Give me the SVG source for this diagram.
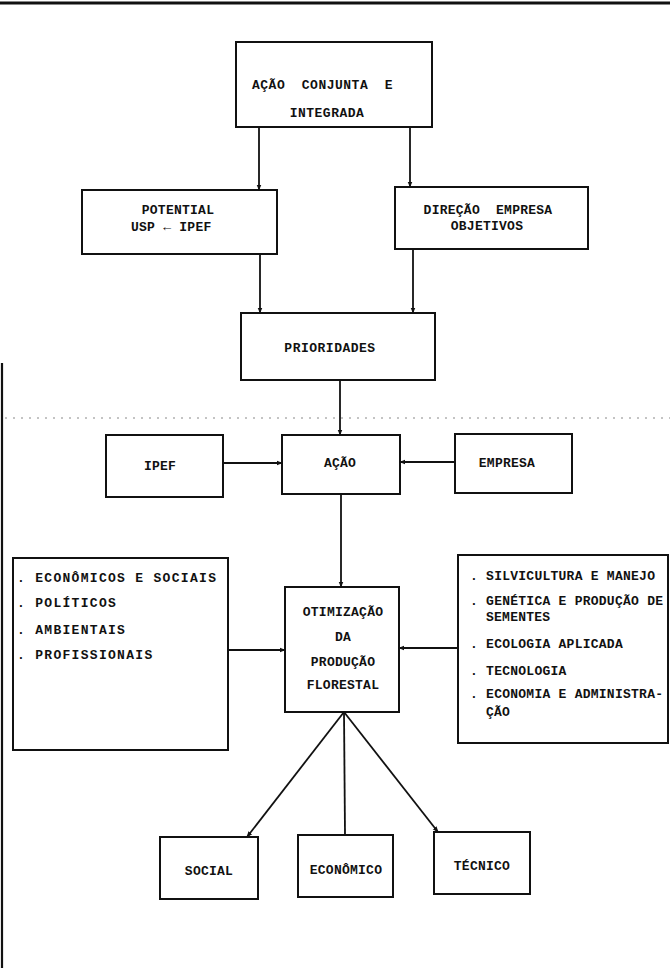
<svg xmlns="http://www.w3.org/2000/svg" width="670" height="968" viewBox="0 0 670 968">
<style>
.box{fill:none;stroke:#111;stroke-width:2}
.t{font-family:"Liberation Mono","DejaVu Sans Mono",monospace;font-weight:bold;font-size:13px;fill:#111;letter-spacing:0.25px}
.w{letter-spacing:0.5px}
.ww{letter-spacing:1.3px}
.c{text-anchor:middle}
.ln{stroke:#111;stroke-width:1.8;fill:none}
</style>
<defs>
<marker id="ah" viewBox="0 0 10 10" refX="9" refY="5" markerWidth="6" markerHeight="6" orient="auto" markerUnits="userSpaceOnUse">
<path d="M0,1 L10,5 L0,9 z" fill="#111"/>
</marker>
</defs>
<rect width="670" height="968" fill="#fff"/>
<line x1="0" y1="3" x2="670" y2="3" stroke="#111" stroke-width="3"/>
<line x1="2" y1="363" x2="2" y2="968" stroke="#111" stroke-width="2.2"/>
<line x1="5" y1="418" x2="670" y2="418" stroke="#888" stroke-width="1" stroke-dasharray="2 6"/>

<g id="acao-conjunta">
<rect class="box" x="236" y="42" width="196" height="85"/>
<text class="t w" x="252" y="89" xml:space="preserve">AÇÃO  CONJUNTA  E</text>
<text class="t w c" x="327" y="117">INTEGRADA</text>
</g>
<g id="potential">
<rect class="box" x="82" y="190" width="195" height="64"/>
<text class="t c" x="178" y="214">POTENTIAL</text>
<text class="t" x="131" y="231">USP ← IPEF</text>
</g>
<g id="direcao">
<rect class="box" x="395" y="187" width="193" height="62"/>
<text class="t c" x="488" y="214" xml:space="preserve">DIREÇÃO  EMPRESA</text>
<text class="t c" x="487" y="230">OBJETIVOS</text>
</g>
<g id="prioridades">
<rect class="box" x="241" y="313" width="194" height="67"/>
<text class="t w c" x="330" y="352">PRIORIDADES</text>
</g>
<g id="ipef">
<rect class="box" x="106" y="435" width="117" height="62"/>
<text class="t c" x="160" y="470">IPEF</text>
</g>
<g id="acao">
<rect class="box" x="282" y="435" width="118" height="59"/>
<text class="t c" x="340" y="467">AÇÃO</text>
</g>
<g id="empresa">
<rect class="box" x="455" y="434" width="117" height="59"/>
<text class="t c" x="507" y="467">EMPRESA</text>
</g>
<g id="fatores">
<rect class="box" x="13" y="558" width="215" height="192"/>
<text class="t ww" x="17" y="582" xml:space="preserve">. ECONÔMICOS E SOCIAIS</text>
<text class="t ww" x="17" y="607" xml:space="preserve">. POLÍTICOS</text>
<text class="t ww" x="17" y="634" xml:space="preserve">. AMBIENTAIS</text>
<text class="t ww" x="17" y="659" xml:space="preserve">. PROFISSIONAIS</text>
</g>
<g id="otimizacao">
<rect class="box" x="285" y="587" width="114" height="125"/>
<text class="t c" x="343" y="616">OTIMIZAÇÃO</text>
<text class="t c" x="343" y="641">DA</text>
<text class="t c" x="343" y="666">PRODUÇÃO</text>
<text class="t c" x="343" y="689">FLORESTAL</text>
</g>
<g id="areas">
<rect class="box" x="458" y="555" width="210" height="188"/>
<text class="t" x="470" y="580" xml:space="preserve">. SILVICULTURA E MANEJO</text>
<text class="t" x="470" y="605" xml:space="preserve">. GENÉTICA E PRODUÇÃO DE</text>
<text class="t" x="486" y="621">SEMENTES</text>
<text class="t" x="470" y="648" xml:space="preserve">. ECOLOGIA APLICADA</text>
<text class="t" x="470" y="675" xml:space="preserve">. TECNOLOGIA</text>
<text class="t" x="470" y="698" xml:space="preserve">. ECONOMIA E ADMINISTRA-</text>
<text class="t" x="486" y="716">ÇÃO</text>
</g>
<g id="social">
<rect class="box" x="160" y="837" width="98" height="62"/>
<text class="t c" x="209" y="875">SOCIAL</text>
</g>
<g id="economico">
<rect class="box" x="298" y="835" width="95" height="62"/>
<text class="t c" x="346" y="874">ECONÔMICO</text>
</g>
<g id="tecnico">
<rect class="box" x="434" y="832" width="96" height="62"/>
<text class="t c" x="482" y="870">TÉCNICO</text>
</g>

<g id="connectors">
<line class="ln" x1="259" y1="127" x2="259" y2="190" marker-end="url(#ah)"/>
<line class="ln" x1="410" y1="127" x2="410" y2="187" marker-end="url(#ah)"/>
<line class="ln" x1="260" y1="254" x2="260" y2="313" marker-end="url(#ah)"/>
<line class="ln" x1="413" y1="249" x2="413" y2="313" marker-end="url(#ah)"/>
<line class="ln" x1="340" y1="380" x2="340" y2="435" marker-end="url(#ah)"/>
<line class="ln" x1="223" y1="463" x2="282" y2="463" marker-end="url(#ah)"/>
<line class="ln" x1="455" y1="462" x2="400" y2="462" marker-end="url(#ah)"/>
<line class="ln" x1="341" y1="494" x2="341" y2="587" marker-end="url(#ah)"/>
<line class="ln" x1="228" y1="650" x2="285" y2="650" marker-end="url(#ah)"/>
<line class="ln" x1="458" y1="648" x2="399" y2="648" marker-end="url(#ah)"/>
<line class="ln" x1="344" y1="712" x2="247" y2="837" marker-end="url(#ah)"/>
<line class="ln" x1="344" y1="712" x2="345" y2="835"/>
<line class="ln" x1="344" y1="712" x2="438" y2="832" marker-end="url(#ah)"/>
</g>
</svg>
